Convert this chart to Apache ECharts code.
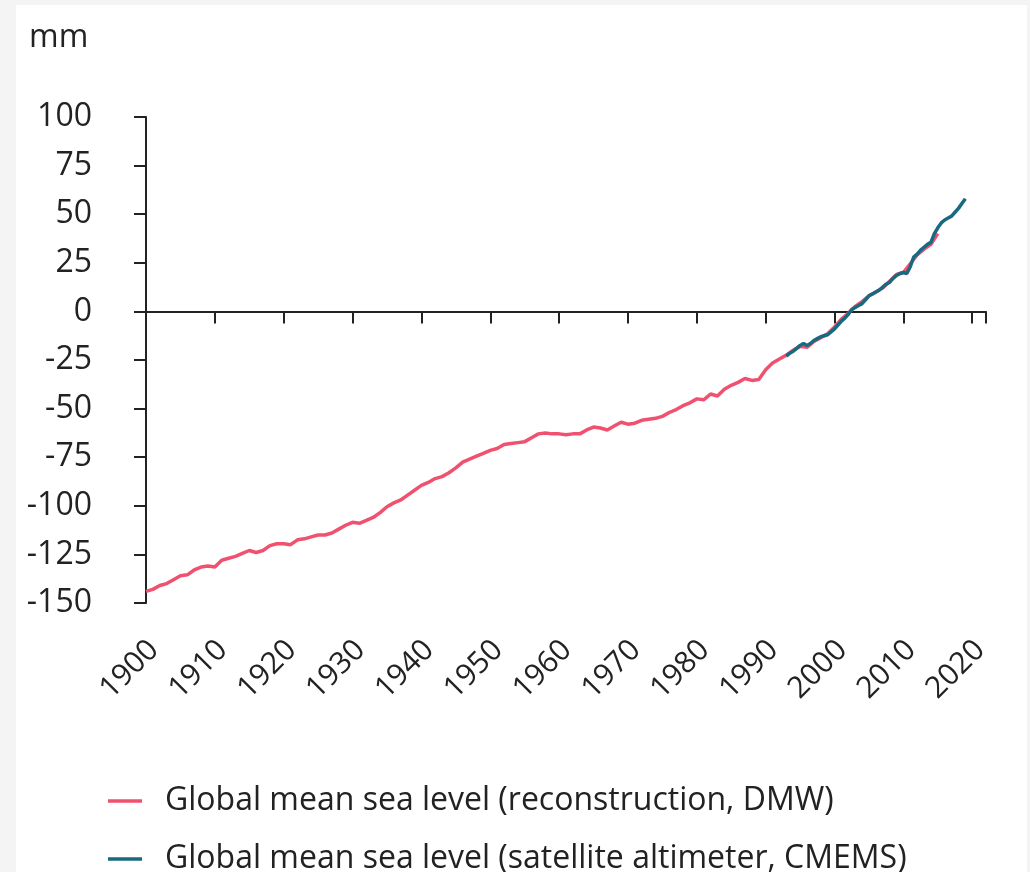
<!DOCTYPE html>
<html>
<head>
<meta charset="utf-8">
<script src="https://cdn.jsdelivr.net/npm/echarts@6/dist/echarts.min.js"></script>
<style>
html,body{margin:0;padding:0;background:#f4f4f4;width:1030px;height:872px;overflow:hidden;}
#chart{position:absolute;left:16px;top:5px;width:1011px;height:867px;background:#ffffff;}
</style>
</head>
<body>
<div id="chart"></div>
<script>
// Reconstruction (DMW), annual 1900-2015, mm
const reconYears = [];
for (let y = 1900; y <= 2015; y++) reconYears.push(y);
const reconValues = [
  -144,-143,-141,-140,-138,-136,-135.5,-133,-131.5,-131,
  -131.5,-128,-127,-126,-124.5,-123,-124,-123,-120.5,-119.5,
  -119.5,-120,-117.5,-117,-116,-115,-115,-114,-112,-110,
  -108.5,-109,-107.5,-106,-103.5,-100.5,-98.5,-97,-94.5,-92,
  -89.5,-88,-86,-85,-83,-80.5,-77.5,-76,-74.5,-73,
  -71.5,-70.5,-68.5,-68,-67.5,-67,-65,-63,-62.5,-63,
  -63,-63.5,-63,-63,-61,-59.5,-60,-61,-59,-57,
  -58,-57.5,-56,-55.5,-55,-54,-52,-50.5,-48.5,-47,
  -45,-45.5,-42.5,-43.5,-40,-38,-36.5,-34.5,-35.5,-35,
  -30,-26.5,-24.5,-22.5,-20,-18,-18.5,-15.5,-13.5,-11.5,
  -8,-4,-1,2.5,5,8,10,12,15.5,19,
  20,24.5,29,32,34.5,40
];
// Satellite altimeter (CMEMS), half-yearly 1993-2019, mm
const satYears = [];
for (let i = 0; i <= 52; i++) satYears.push(1993 + i * 0.5);
const satValues = [
  -23,-21.5,-20.5,-19,-17.5,-16.5,-17.5,-16.5,-15,-14,
  -13,-12.5,-12,-10.5,-9,-7,-5,-3.5,-1.5,1,
  2,3,4,6,8,9,10,11,12.5,14,
  15,17,18.5,19.5,20,19.5,23,28,29.5,31.5,
  33,34.5,35.5,40,43,45.5,47,48,49,51,
  53,55.5,58
];
const seriesNames = [
  'Global mean sea level (reconstruction, DMW)',
  'Global mean sea level (satellite altimeter, CMEMS)'
];
const xMin = 1900, xMax = 2022, xStep = 10;
const yMin = -150, yMax = 100, yStep = 25;

const FONT = '"Open Sans", sans-serif';
const TXT = '#222';
const AX = '#222';
const PINK = '#ef516e';
const TEAL = '#176a7f';

function legendFor(name, top) {
  return {
    orient: 'vertical', left: 87, top: top,
    icon: 'rect', itemWidth: 34, itemHeight: 3.5,
    data: [name],
    textStyle: {fontFamily: FONT, fontSize: 32, color: TXT, lineHeight: 36, padding: [0,0,0,18]}
  };
}

const chart = echarts.init(document.getElementById('chart'), null, {renderer: 'canvas'});
chart.setOption({
  animation: false,
  backgroundColor: '#ffffff',
  title: {
    text: 'mm', left: 8, top: 12,
    textStyle: {fontFamily: FONT, fontSize: 32, fontWeight: 'normal', color: TXT}
  },
  grid: {left: 130, top: 112, right: 41, bottom: 269, containLabel: false},
  legend: [legendFor(seriesNames[0], 773), legendFor(seriesNames[1], 831)],
  xAxis: [
    {
      type: 'value', min: xMin, max: xMax, interval: xStep,
      axisLine: {show: true, onZero: true, lineStyle: {color: AX, width: 2}},
      axisTick: {show: true, length: 12, lineStyle: {color: AX, width: 2}},
      axisLabel: {show: false},
      splitLine: {show: false}
    },
    {
      type: 'value', min: xMin, max: xMax, interval: xStep, position: 'bottom',
      axisLine: {show: false, onZero: false},
      axisTick: {show: false},
      axisLabel: {
        show: true, rotate: 45, margin: 50, padding: [0, -11, 0, 0],
        fontFamily: FONT, fontSize: 30, color: TXT,
        formatter: v => (v % 10 === 0 ? String(v) : '')
      },
      splitLine: {show: false}
    }
  ],
  yAxis: {
    type: 'value', min: yMin, max: yMax, interval: yStep,
    axisLine: {show: true, lineStyle: {color: AX, width: 2}},
    axisTick: {show: true, length: 12, lineStyle: {color: AX, width: 2}},
    axisLabel: {margin: 54, fontFamily: FONT, fontSize: 32, color: TXT},
    splitLine: {show: false}
  },
  series: [
    {
      name: seriesNames[0], type: 'line', xAxisIndex: 0,
      data: reconYears.map((y, i) => [y, reconValues[i]]),
      showSymbol: false, symbol: 'none',
      lineStyle: {color: PINK, width: 3.5},
      itemStyle: {color: PINK}
    },
    {
      name: seriesNames[1], type: 'line', xAxisIndex: 0,
      data: satYears.map((y, i) => [y, satValues[i]]),
      showSymbol: false, symbol: 'none',
      lineStyle: {color: TEAL, width: 3.5},
      itemStyle: {color: TEAL}
    }
  ]
});
</script>
</body>
</html>
